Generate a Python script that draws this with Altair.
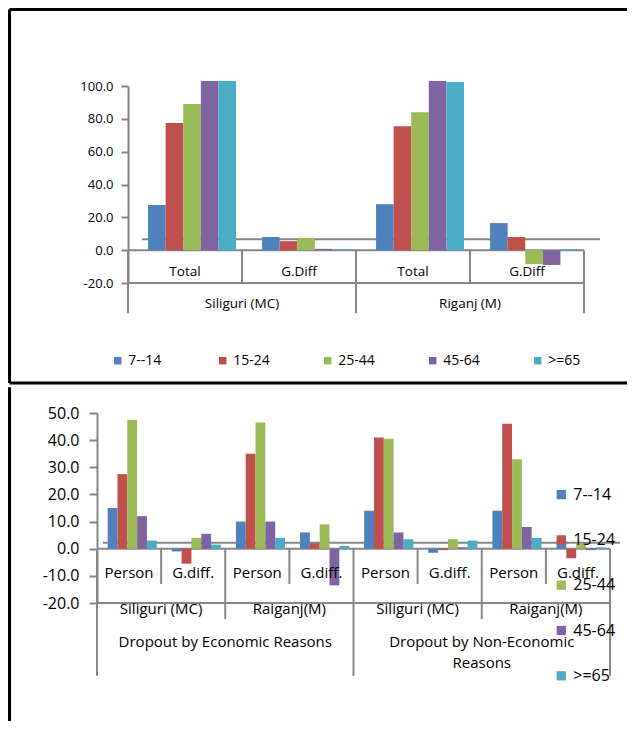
import altair as alt
import pandas as pd

# ---------------- data ----------------
ages = ["7--14", "15-24", "25-44", "45-64", ">=65"]
age_colors = ["#4F81BD", "#C0504D", "#9BBB59", "#8064A2", "#4BACC6"]

# top panel
top_towns = ["Siliguri (MC)", "Riganj (M)"]
top_measures = ["Total", "G.Diff"]
siliguri_total = [27.5, 77.5, 89.0, 103.0, 103.0]
siliguri_gdiff = [8.0, 5.5, 7.5, 0.8, 0.5]
riganj_total = [28.0, 75.5, 84.0, 103.0, 102.5]
riganj_gdiff = [16.5, 8.0, -8.5, -9.0, 0.5]

# bottom panel
reasons = ["Dropout by Economic Reasons", "Dropout by Non-Economic\nReasons"]
bottom_towns = ["Siliguri (MC)", "Raiganj(M)"]
bottom_measures = ["Person", "G.diff."]
econ_siliguri_person = [15.0, 27.5, 47.5, 12.0, 3.0]
econ_siliguri_gdiff = [-1.0, -5.5, 4.0, 5.5, 1.5]
econ_raiganj_person = [10.0, 35.0, 46.5, 10.0, 4.0]
econ_raiganj_gdiff = [6.0, 2.0, 9.0, -13.5, 1.0]
nonecon_siliguri_person = [14.0, 41.0, 40.5, 6.0, 3.5]
nonecon_siliguri_gdiff = [-1.5, -0.5, 3.5, 0.5, 3.0]
nonecon_raiganj_person = [14.0, 46.0, 33.0, 8.0, 4.0]
nonecon_raiganj_gdiff = [3.0, -3.5, 2.0, -0.5, 0.5]

top_ticks = [-20, 0, 20, 40, 60, 80, 100]
bottom_ticks = [-20, -10, 0, 10, 20, 30, 40, 50]

# ---------------- style / layout ----------------
FONT = "Open Sans"
GRAY = "#868686"
LW = 2
SHIFT = 31                      # top plot starts this far right of the shared origin
TOP_W, TOP_H = SHIFT + 456, 197
BOT_W, BOT_H = 513, 190
TOP_DOMAIN = [-20, 100]
BOT_DOMAIN = [-20, 50]
FRAME_RIGHT = 530
LABEL_EXPR = "replace(format(datum.value, '.1f'), '\u2212', '-')"

dummy = pd.DataFrame({"d": [0]})

# ---------------- build tables ----------------
top_series = {
    ("Siliguri (MC)", "Total"): siliguri_total,
    ("Siliguri (MC)", "G.Diff"): siliguri_gdiff,
    ("Riganj (M)", "Total"): riganj_total,
    ("Riganj (M)", "G.Diff"): riganj_gdiff,
}
top_keys = [f"{t}|{m}" for t in top_towns for m in top_measures]
top_df = pd.DataFrame(
    [{"key": f"{t}|{m}", "age": a, "value": v}
     for t in top_towns for m in top_measures
     for a, v in zip(ages, top_series[(t, m)])]
)

bottom_series = {
    (reasons[0], "Siliguri (MC)", "Person"): econ_siliguri_person,
    (reasons[0], "Siliguri (MC)", "G.diff."): econ_siliguri_gdiff,
    (reasons[0], "Raiganj(M)", "Person"): econ_raiganj_person,
    (reasons[0], "Raiganj(M)", "G.diff."): econ_raiganj_gdiff,
    (reasons[1], "Siliguri (MC)", "Person"): nonecon_siliguri_person,
    (reasons[1], "Siliguri (MC)", "G.diff."): nonecon_siliguri_gdiff,
    (reasons[1], "Raiganj(M)", "Person"): nonecon_raiganj_person,
    (reasons[1], "Raiganj(M)", "G.diff."): nonecon_raiganj_gdiff,
}
bot_keys = [f"{r}|{t}|{m}" for r in reasons for t in bottom_towns for m in bottom_measures]
bot_df = pd.DataFrame(
    [{"key": f"{r}|{t}|{m}", "age": a, "value": v}
     for r in reasons for t in bottom_towns for m in bottom_measures
     for a, v in zip(ages, bottom_series[(r, t, m)])]
)


def band_x(keys, rng=None, band=None):
    sc = dict(domain=keys, paddingInner=0, paddingOuter=0)
    if rng is not None:
        sc["range"] = rng
    kw = dict(sort=keys, scale=alt.Scale(**sc), axis=None, title=None)
    if band is not None:
        kw["bandPosition"] = band
    return alt.X("key:N", **kw)


def make_y(field, domain, ticks, font_size, tick_size, label_pad, offset):
    return alt.Y(
        f"{field}:Q",
        scale=alt.Scale(domain=domain, nice=False, zero=False),
        title=None,
        axis=alt.Axis(values=ticks, labelExpr=LABEL_EXPR, grid=False,
                      domainColor=GRAY, domainWidth=LW, tickColor=GRAY, tickWidth=LW,
                      tickSize=tick_size, labelFont=FONT, labelFontSize=font_size,
                      labelColor="black", labelPadding=label_pad, title=None,
                      offset=offset),
    )


TOP_RANGE = [SHIFT, SHIFT + 456]


def tx(band=None):
    return band_x(top_keys, TOP_RANGE, band)


def bx(band=None):
    return band_x(bot_keys, None, band)


def ty(field):
    return make_y(field, TOP_DOMAIN, top_ticks, 13, 7, 8, -SHIFT)


def by(field):
    return make_y(field, BOT_DOMAIN, bottom_ticks, 16, 8, 10, 0)


def y2(field):
    return alt.Y2(f"{field}:Q")


# ---------------- top panel ----------------
T_R1, T_R2 = -20, -38.5
top_sep = pd.DataFrame(
    [{"key": f"{t}|{m}", "y1": 0, "y2": (T_R2 if mi == 0 else T_R1)}
     for t in top_towns for mi, m in enumerate(top_measures)]
)
top_sep_end = pd.DataFrame([{"key": top_keys[-1], "y1": 0, "y2": T_R2}])
top_hlines = pd.DataFrame({"y": [0, T_R1]})
top_floor = pd.DataFrame({"y": [6.7]})
top_row1 = pd.DataFrame([{"key": f"{t}|{m}", "label": m, "y": -13.6}
                         for t in top_towns for m in top_measures])
top_row2 = pd.DataFrame([{"key": f"{t}|{top_measures[0]}", "label": t, "y": -33.0}
                         for t in top_towns])

top_layers = [
    alt.Chart(top_floor).mark_rule(color=GRAY, strokeWidth=LW).encode(
        x=alt.value(SHIFT + 14), x2=alt.value(SHIFT + 472), y=ty("y")),
    alt.Chart(top_hlines).mark_rule(color=GRAY, strokeWidth=LW).encode(
        x=alt.value(SHIFT), x2=alt.value(SHIFT + 456), y=ty("y")),
    alt.Chart(top_sep).mark_rule(color=GRAY, strokeWidth=LW).encode(
        x=tx(0), y=ty("y1"), y2=y2("y2")),
    alt.Chart(top_sep_end).mark_rule(color=GRAY, strokeWidth=LW).encode(
        x=tx(1), y=ty("y1"), y2=y2("y2")),
    alt.Chart(top_df).mark_bar().encode(
        x=tx(),
        xOffset=alt.XOffset("age:N", sort=ages,
                            scale=alt.Scale(domain=ages, paddingInner=0, paddingOuter=0.74, align=0.77)),
        y=ty("value"),
        color=alt.Color("age:N", sort=ages, scale=alt.Scale(domain=ages, range=age_colors),
                        legend=alt.Legend(orient="none", legendX=13.7, legendY=267.7,
                                          direction="horizontal", title=None,
                                          symbolType="square", symbolSize=56,
                                          symbolStrokeWidth=0, labelFont=FONT,
                                          labelFontSize=14, labelColor="black",
                                          labelOffset=3.5, columnPadding=50,
                                          gridAlign="all", padding=0)),
    ),
    alt.Chart(top_row1).mark_text(font=FONT, fontSize=13.5, color="black", baseline="middle").encode(
        x=tx(), y=ty("y"), text="label:N"),
    alt.Chart(top_row2).mark_text(font=FONT, fontSize=13.5, color="black", baseline="middle").encode(
        x=tx(1), y=ty("y"), text="label:N"),
    # frame
    alt.Chart(dummy).mark_rule(color="black", strokeWidth=3).encode(
        x=alt.value(-87.5), x2=alt.value(FRAME_RIGHT), y=alt.value(-76.5)),
    alt.Chart(dummy).mark_rule(color="black", strokeWidth=3).encode(
        x=alt.value(-87.5), y=alt.value(-76.5), y2=alt.value(297)),
    alt.Chart(dummy).mark_rule(color="black", strokeWidth=3).encode(
        x=alt.value(-87.5), x2=alt.value(FRAME_RIGHT), y=alt.value(297)),
]
top_chart = alt.layer(*top_layers).properties(width=TOP_W, height=TOP_H)

# ---------------- bottom panel ----------------
B_R1, B_R2, B_R3 = -13.0, -25.9, -46.8
bot_sep_rows = []
for r in reasons:
    for ti, t in enumerate(bottom_towns):
        for mi, m in enumerate(bottom_measures):
            if mi > 0:
                end = B_R1
            elif ti > 0:
                end = B_R2
            else:
                end = B_R3
            bot_sep_rows.append({"key": f"{r}|{t}|{m}", "y1": 0, "y2": end})
bot_sep = pd.DataFrame(bot_sep_rows)
bot_sep_end = pd.DataFrame([{"key": bot_keys[-1], "y1": 0, "y2": B_R3}])
bot_hlines = pd.DataFrame({"y": [0, -20]})
bot_floor = pd.DataFrame({"y": [2.2]})
bot_row1 = pd.DataFrame([{"key": f"{r}|{t}|{m}", "label": m, "y": -9.0}
                         for r in reasons for t in bottom_towns for m in bottom_measures])
bot_row2 = pd.DataFrame([{"key": f"{r}|{t}|{bottom_measures[0]}", "label": t, "y": -22.3}
                         for r in reasons for t in bottom_towns])
bot_row3 = pd.DataFrame([{"key": f"{r}|{bottom_towns[0]}|{bottom_measures[-1]}", "label": r, "y": -31.7}
                         for r in reasons])

bot_layers = [
    alt.Chart(bot_floor).mark_rule(color=GRAY, strokeWidth=LW).encode(
        x=alt.value(6), x2=alt.value(523), y=by("y")),
    alt.Chart(bot_hlines).mark_rule(color=GRAY, strokeWidth=LW).encode(y=by("y")),
    alt.Chart(bot_sep).mark_rule(color=GRAY, strokeWidth=LW).encode(
        x=bx(0), y=by("y1"), y2=y2("y2")),
    alt.Chart(bot_sep_end).mark_rule(color=GRAY, strokeWidth=LW).encode(
        x=bx(1), y=by("y1"), y2=y2("y2")),
    alt.Chart(bot_df).mark_bar().encode(
        x=bx(),
        xOffset=alt.XOffset("age:N", sort=ages,
                            scale=alt.Scale(domain=ages, paddingInner=0, paddingOuter=0.765, align=0.71)),
        y=by("value"),
        color=alt.Color("age:N", sort=ages, scale=alt.Scale(domain=ages, range=age_colors),
                        legend=alt.Legend(orient="none", legendX=456.3, legendY=73.6,
                                          direction="vertical", title=None,
                                          symbolType="square", symbolSize=86,
                                          symbolStrokeWidth=0, labelFont=FONT,
                                          labelFontSize=16, labelColor="black",
                                          labelOffset=4, rowPadding=29.3, padding=0)),
    ),
    alt.Chart(bot_row1).mark_text(font=FONT, fontSize=15, color="black", baseline="middle").encode(
        x=bx(), y=by("y"), text="label:N"),
    alt.Chart(bot_row2).mark_text(font=FONT, fontSize=15, color="black", baseline="middle").encode(
        x=bx(1), y=by("y"), text="label:N"),
    alt.Chart(bot_row3).mark_text(font=FONT, fontSize=15, color="black", baseline="top",
                                  lineBreak="\n", lineHeight=21.6).encode(
        x=bx(1), y=by("y"), text="label:N"),
    # frame
    alt.Chart(dummy).mark_rule(color="black", strokeWidth=3).encode(
        x=alt.value(-87.5), y=alt.value(-25.7), y2=alt.value(308)),
]
bot_chart = alt.layer(*bot_layers).properties(width=BOT_W, height=BOT_H)

chart = (
    alt.vconcat(top_chart, bot_chart, spacing=0)
    .resolve_scale(color="independent", xOffset="independent")
    .properties(padding=0, background="white")
    .configure_view(stroke=None)
)

chart.save("out.html", embed_options={"renderer": "svg", "actions": False})
